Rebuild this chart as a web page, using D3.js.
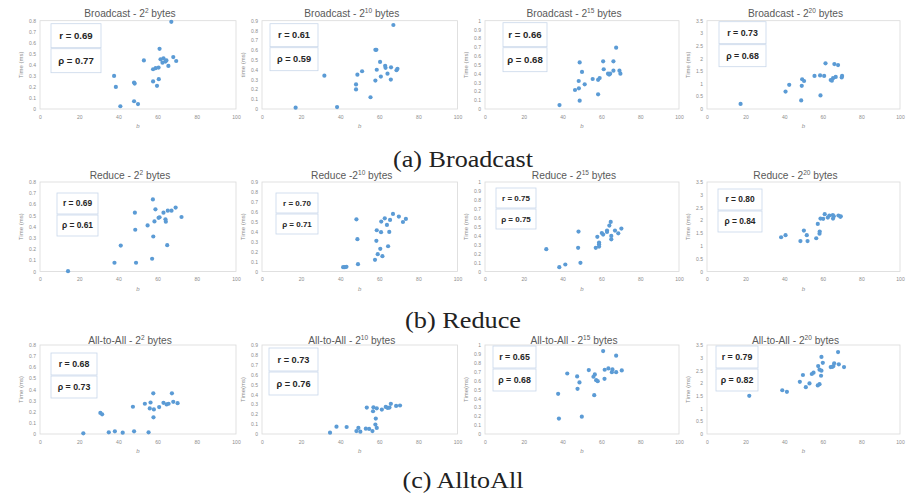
<!DOCTYPE html>
<html>
<head>
<meta charset="utf-8">
<script src="https://cdn.jsdelivr.net/npm/d3@7"></script>
<style>
  body { margin: 0; background: #fff; }
  svg { display: block; }
</style>
</head>
<body>
<div id="chart"></div>
<script>
// Panel titles, in reading order (row by row)
const titlePrefix = ["Broadcast - 2", "Broadcast - 2", "Broadcast - 2", "Broadcast - 2",
    "Reduce - 2", "Reduce -2", "Reduce - 2", "Reduce - 2",
    "All-to-All - 2", "All-to-All - 2", "All-to-All - 2", "All-to-All - 2"]
const titleExp = ["2", "10", "15", "20", "2", "10", "15", "20", "2", "10", "15", "20"]
const yLabels = ["Time (ms)", "time (ms)", "Time (ms)", "Time (ms)",
    "Time (ms)", "Time (ms)", "Time (ms)", "Time (ms)",
    "Time (ms)", "Time(ms)", "Time(ms)", "Time (ms)"]
const rVals = [0.69, 0.61, 0.66, 0.73, 0.69, 0.70, 0.75, 0.80, 0.68, 0.73, 0.65, 0.79]
const rhoVals = [0.77, 0.59, 0.68, 0.68, 0.61, 0.71, 0.75, 0.84, 0.73, 0.76, 0.68, 0.82]
const yMax = [0.8, 0.9, 1, 3.5, 0.8, 0.9, 1, 3.5, 0.8, 0.9, 1, 3.5]
const xTicks = [0, 20, 40, 60, 80, 100]
const captions = ["(a) Broadcast", "(b) Reduce", "(c) AlltoAll"]

// Broadcast
const bc2_b = [67, 61, 53, 57.7, 59, 60.5, 61.5, 62.5, 63, 64, 64.5, 65.5, 68, 69.5, 37.8, 38.7, 48, 48.3, 57.7, 60.6, 59.7, 41, 48, 50]
const bc2_t = [0.79, 0.545, 0.44, 0.36, 0.37, 0.375, 0.45, 0.42, 0.46, 0.43, 0.44, 0.39, 0.47, 0.435, 0.30, 0.20, 0.24, 0.23, 0.25, 0.27, 0.21, 0.025, 0.07, 0.045]
const bc10_b = [67.2, 58, 58.5, 60.4, 63, 63.2, 66, 68.8, 69.3, 58.7, 64.2, 60.8, 58, 65.9, 51.2, 48.8, 48.1, 48.1, 31.9, 55.5, 17.2, 38.4]
const bc10_t = [0.856, 0.603, 0.603, 0.48, 0.44, 0.42, 0.425, 0.395, 0.41, 0.40, 0.36, 0.33, 0.29, 0.30, 0.385, 0.35, 0.25, 0.20, 0.34, 0.12, 0.013, 0.02]
const bc15_b = [67.6, 48.8, 60.9, 66.2, 61.2, 50, 66.2, 63.4, 64, 64.5, 69.3, 69.8, 55.5, 58.3, 59.1, 48.3, 51.4, 46.4, 48.4, 58.3, 48.8, 38.4]
const bc15_t = [0.694, 0.528, 0.54, 0.54, 0.45, 0.42, 0.434, 0.40, 0.39, 0.40, 0.434, 0.40, 0.34, 0.33, 0.35, 0.317, 0.28, 0.215, 0.234, 0.166, 0.094, 0.045]
const bc20_b = [61.4, 66, 67.9, 55.7, 58.6, 60.7, 70, 69.8, 66.7, 65.3, 64.1, 64.7, 49.3, 50.3, 42.6, 49.1, 40.7, 58.8, 48.8, 17.4]
const bc20_t = [1.81, 1.78, 1.74, 1.31, 1.33, 1.31, 1.31, 1.25, 1.27, 1.22, 1.15, 1.12, 1.18, 1.11, 0.96, 0.92, 0.69, 0.54, 0.34, 0.20]

// Reduce
const rd2_b = [57.6, 48.4, 58.9, 69.2, 63, 65.2, 67.1, 60.5, 61, 72.2, 58.4, 64, 64.2, 54.9, 48.6, 57.8, 41.2, 64.9, 38, 49, 57.2, 14.3]
const rd2_t = [0.644, 0.526, 0.556, 0.571, 0.526, 0.544, 0.544, 0.48, 0.485, 0.487, 0.448, 0.466, 0.445, 0.412, 0.373, 0.313, 0.232, 0.235, 0.078, 0.078, 0.114, 0.003]
const rd10_b = [67, 70, 73.6, 72.1, 62.8, 61, 65.5, 63.9, 58.7, 60.9, 65.1, 48.3, 48.8, 58.5, 60.5, 59.2, 61.6, 64.5, 57.8, 49.1, 41.5, 42.3, 43.2]
const rd10_t = [0.579, 0.552, 0.529, 0.498, 0.535, 0.502, 0.519, 0.468, 0.415, 0.395, 0.398, 0.525, 0.325, 0.308, 0.228, 0.174, 0.154, 0.254, 0.117, 0.074, 0.043, 0.043, 0.047]
const rd15_b = [64.8, 64.1, 70.3, 67, 62.9, 62.9, 60.2, 60.9, 68.7, 48.2, 65.1, 65.1, 57.9, 58.8, 58.8, 58.8, 57.1, 48, 31.6, 49.2, 41.4, 38.3]
const rd15_t = [0.554, 0.513, 0.48, 0.457, 0.457, 0.442, 0.43, 0.413, 0.427, 0.446, 0.398, 0.36, 0.387, 0.323, 0.305, 0.279, 0.264, 0.264, 0.249, 0.097, 0.078, 0.048]
const rd20_b = [61, 63.4, 65.2, 65.7, 68.1, 69.3, 60.2, 58.8, 62.6, 65.3, 69.1, 57.4, 58.4, 58.3, 50.2, 51.7, 40.7, 38.4, 48.4, 52.1, 56.6]
const rd20_t = [2.24, 2.19, 2.21, 2.16, 2.19, 2.16, 2.06, 2.07, 2.11, 2.07, 2.14, 1.86, 1.56, 1.48, 1.60, 1.42, 1.42, 1.34, 1.19, 1.19, 1.30]

// All-to-All
const aa2_b = [57.8, 67.3, 47.4, 53.5, 56.4, 56, 58.1, 60.8, 63, 64.6, 65.6, 68, 70.2, 57.9, 30.8, 31.7, 22.1, 35.1, 38.2, 42.2, 48, 55.4]
const aa2_t = [0.366, 0.366, 0.245, 0.272, 0.283, 0.23, 0.221, 0.242, 0.28, 0.266, 0.272, 0.289, 0.277, 0.15, 0.189, 0.177, 0.006, 0.015, 0.024, 0.012, 0.024, 0.015]
const aa10_b = [53.6, 56.8, 57, 58.7, 65.9, 63.3, 64.3, 65.2, 61.3, 68.6, 70.6, 58.2, 58, 58.7, 38.1, 43.3, 49.3, 48.3, 50.3, 53.1, 54.8, 56.5, 34.8]
const aa10_t = [0.267, 0.23, 0.27, 0.26, 0.305, 0.274, 0.264, 0.267, 0.247, 0.284, 0.288, 0.156, 0.095, 0.061, 0.074, 0.071, 0.061, 0.03, 0.024, 0.054, 0.051, 0.03, 0.013]
const aa15_b = [60.9, 67.6, 42.4, 63.6, 61.7, 53.5, 65.7, 65.4, 67.6, 70.5, 56.6, 55.9, 47.5, 57.3, 58.1, 61.6, 48.7, 47.7, 56.3, 37.7, 38.1, 49.9]
const aa15_t = [0.932, 0.88, 0.68, 0.737, 0.722, 0.718, 0.726, 0.695, 0.695, 0.714, 0.669, 0.643, 0.647, 0.605, 0.594, 0.62, 0.579, 0.508, 0.436, 0.451, 0.173, 0.195]
const aa20_b = [67.9, 59.3, 60, 65.9, 65.5, 57.6, 64.1, 65, 68.3, 71, 58.3, 59.3, 55.2, 54.3, 49.7, 59.1, 48.1, 53.1, 58.3, 57.4, 51.2, 39, 41.4, 21.9]
const aa20_t = [3.22, 3.03, 2.80, 2.78, 2.67, 2.67, 2.63, 2.64, 2.74, 2.63, 2.53, 2.49, 2.41, 2.36, 2.32, 2.29, 2.05, 1.99, 1.96, 1.91, 1.84, 1.72, 1.66, 1.50]

const bSeries = [bc2_b, bc10_b, bc15_b, bc20_b, rd2_b, rd10_b, rd15_b, rd20_b, aa2_b, aa10_b, aa15_b, aa20_b]
const tSeries = [bc2_t, bc10_t, bc15_t, bc20_t, rd2_t, rd10_t, rd15_t, rd20_t, aa2_t, aa10_t, aa15_t, aa20_t]

// ---- layout ----
const width = 911, height = 494
const colLeft = [40, 262, 485, 707]
const colRight = [236, 457.5, 679, 900]
const rowTop = [20.7, 182, 345]
const rowBottom = [109, 271.5, 434]
const titleY = [17, 179, 343.5]
const captionY = [167, 328, 488]
const captionW = [140, 116, 121]
// correlation boxes: offset from plot left/top, width, height of each box
const boxes = [[11, 3, 50, 24], [8, 3, 48, 23], [18, 2, 44, 24], [12, 1, 47, 22],
    [17, 11, 41, 21], [14, 11, 42, 20], [11, 6, 40, 20], [11, 7, 44, 21],
    [11, 8, 46, 22], [7, 3, 49, 23], [8, 1, 43, 22], [9, 1, 42, 22]]

const tickColor = "#8c8c8c", titleColor = "#595959", dotColor = "#5B9BD5"
const fmtTick = d => String(+d.toFixed(1))
const fmtR = d3.format(".2f")

const svg = d3.select("#chart").append("svg")
    .attr("width", width)
    .attr("height", height)

for (let p = 0; p < 12; p++) {
    const row = Math.floor(p / 4), col = p % 4
    const x0 = colLeft[col], x1 = colRight[col]
    const yT = rowTop[row], yB = rowBottom[row]

    const x = d3.scaleLinear().domain([0, 100]).range([x0, x1])
    const y = d3.scaleLinear().domain([0, yMax[p]]).range([yB, yT])
    const step = yMax[p] > 2 ? 0.5 : 0.1
    const yTicks = d3.range(0, yMax[p] + step / 2, step)

    const g = svg.append("g")

    // plot area border
    g.append("rect")
        .attr("x", x0).attr("y", yT)
        .attr("width", x1 - x0).attr("height", yB - yT)
        .attr("fill", "none")
        .attr("stroke", "#d9d9d9")
        .attr("stroke-width", 0.8)

    // axes (labels only)
    const xa = g.append("g")
        .attr("transform", "translate(0," + (yB + 4) + ")")
        .call(d3.axisBottom(x).tickValues(xTicks).tickSize(0).tickPadding(2))
    const ya = g.append("g")
        .attr("transform", "translate(" + (x0 - 3) + ",0)")
        .call(d3.axisLeft(y).tickValues(yTicks).tickFormat(fmtTick).tickSize(0).tickPadding(1))
    for (const a of [xa, ya]) {
        a.select(".domain").remove()
        a.selectAll("text")
            .attr("fill", tickColor)
            .style("font-family", "Liberation Sans, Arial, sans-serif")
            .style("font-size", "5px")
    }

    // axis titles
    g.append("text")
        .attr("transform", "translate(" + (x0 - 17) + "," + ((yT + yB) / 2) + ") rotate(-90)")
        .attr("text-anchor", "middle")
        .attr("fill", tickColor)
        .style("font-family", "Liberation Sans, Arial, sans-serif")
        .style("font-size", "6px")
        .text(yLabels[p])
    g.append("text")
        .attr("x", (x0 + x1) / 2)
        .attr("y", yB + 19)
        .attr("text-anchor", "middle")
        .attr("fill", tickColor)
        .style("font-family", "Liberation Sans, Arial, sans-serif")
        .style("font-size", "6px")
        .style("font-style", "italic")
        .text("b")

    // title
    const title = g.append("text")
        .attr("x", (x0 + x1) / 2 - 8)
        .attr("y", titleY[row])
        .attr("text-anchor", "middle")
        .attr("fill", titleColor)
        .style("font-family", "Liberation Sans, Arial, sans-serif")
        .style("font-size", "10.2px")
    title.append("tspan").text(titlePrefix[p])
    title.append("tspan")
        .attr("dy", -4)
        .style("font-size", "6.5px")
        .text(titleExp[p])
    title.append("tspan")
        .attr("dy", 4)
        .text(" bytes")

    // correlation boxes
    const bx = boxes[p]
    const labels = ["r = " + fmtR(rVals[p]), "\u03c1 = " + fmtR(rhoVals[p])]
    labels.forEach(function (lab, k) {
        const top = yT + bx[1] + k * (bx[3] + 1)
        g.append("rect")
            .attr("x", x0 + bx[0]).attr("y", top)
            .attr("width", bx[2]).attr("height", bx[3])
            .attr("fill", "#fff")
            .attr("stroke", "#c9d7ea")
            .attr("stroke-width", 0.8)
        g.append("text")
            .attr("x", x0 + bx[0] + bx[2] / 2)
            .attr("y", top + bx[3] / 2)
            .attr("dy", "0.35em")
            .attr("text-anchor", "middle")
            .attr("fill", "#262626")
            .style("font-family", "Liberation Sans, Arial, sans-serif")
            .style("font-weight", "bold")
            .style("font-size", (bx[3] * 0.4) + "px")
            .text(lab)
    })

    // points
    g.selectAll("circle")
        .data(d3.zip(bSeries[p], tSeries[p]))
        .enter()
        .append("circle")
        .attr("cx", d => x(d[0]))
        .attr("cy", d => y(d[1]))
        .attr("r", 2.1)
        .attr("fill", dotColor)
}

// sub-figure captions
captions.forEach(function (c, i) {
    svg.append("text")
        .attr("x", 463)
        .attr("y", captionY[i])
        .attr("text-anchor", "middle")
        .attr("textLength", captionW[i])
        .attr("lengthAdjust", "spacingAndGlyphs")
        .attr("fill", "#222")
        .style("font-family", "Liberation Serif, serif")
        .style("font-size", "23px")
        .text(c)
})
</script>
</body>
</html>
